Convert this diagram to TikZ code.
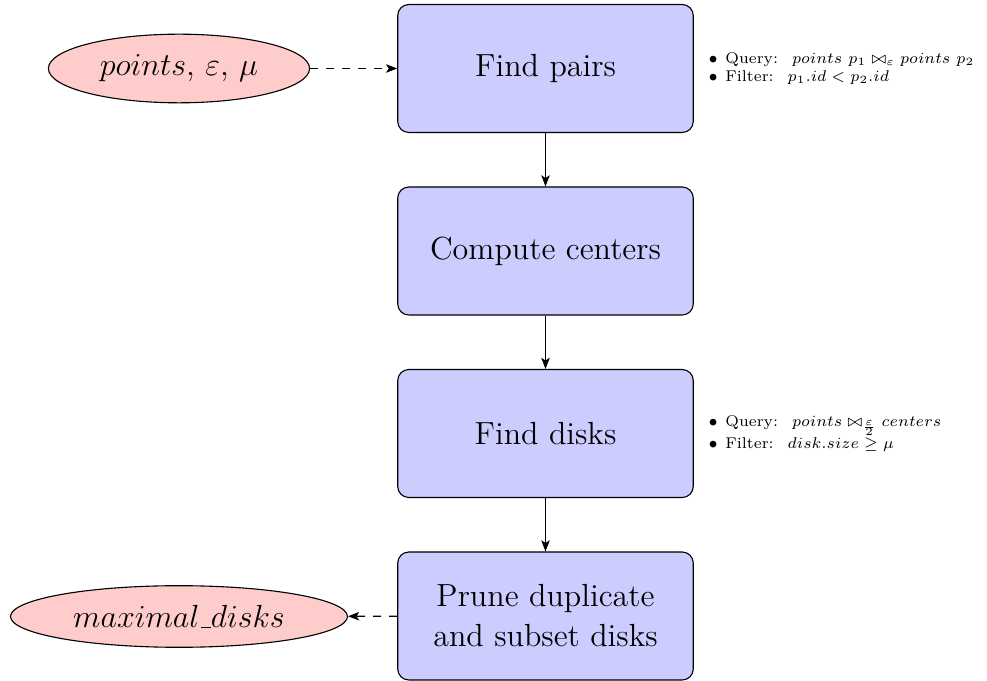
\documentclass[tikz,border=0pt]{standalone}
\usetikzlibrary{shapes.geometric,arrows.meta}
\newcommand{\lowbar}{\hbox{\kern.06em\vbox{\hrule width .3em}}}
\newcommand{\notebullet}{$\bullet$\hspace{0.5em}}
\begin{document}
\begin{tikzpicture}[x=0.45pt,y=-0.45pt,line width=0.5pt,
  stagebox/.style={draw=black,fill=blue!20,rounded corners=5pt,minimum width=133pt,minimum height=57.6pt,align=center,font=\Large,inner sep=2pt},
  databox/.style={draw=black,fill=red!20,ellipse,inner xsep=6pt,inner ysep=4.8pt,font=\Large},
  notebox/.style={anchor=west,align=left,font=\scriptsize,inner sep=0pt},
  flow/.style={-{Stealth[length=5pt,width=3.8pt,inset=1.2pt]}},
  dataflow/.style={-{Stealth[length=5pt,width=3.8pt,inset=1.2pt]},dash pattern=on 3.6pt off 3.6pt}]
\useasboundingbox (0,0) rectangle (987,681);
\node[stagebox] (pairs) at (545.5,68.5) {Find pairs};
\node[stagebox] (centers) at (545.5,251) {Compute centers};
\node[stagebox] (disks) at (545.5,433.5) {Find disks};
\node[stagebox] (prune) at (545.5,616) {Prune duplicate\\and subset disks};
\node[databox] (input) at (179,68.5) {$points$, $\varepsilon$, $\mu$};
\node[databox] (output) at (179,616.5) {$maximal\lowbar disks$};
\node[notebox] (note1) at (708,68.5) {\notebullet Query: \ $points\ p_1 \bowtie_{\varepsilon} points\ p_2$\\\notebullet Filter: \ $p_1.id < p_2.id$};
\node[notebox] (note2) at (708,433.5) {\notebullet Query: \ $points \bowtie_{\frac{\varepsilon}{2}} centers$\\\notebullet Filter: \ $disk.size \geq \mu$};
\draw[flow] (pairs) -- (centers);
\draw[flow] (centers) -- (disks);
\draw[flow] (disks) -- (prune);
\draw[dataflow] (input) -- (pairs);
\draw[dataflow] (prune) -- (output);
\end{tikzpicture}
\end{document}
